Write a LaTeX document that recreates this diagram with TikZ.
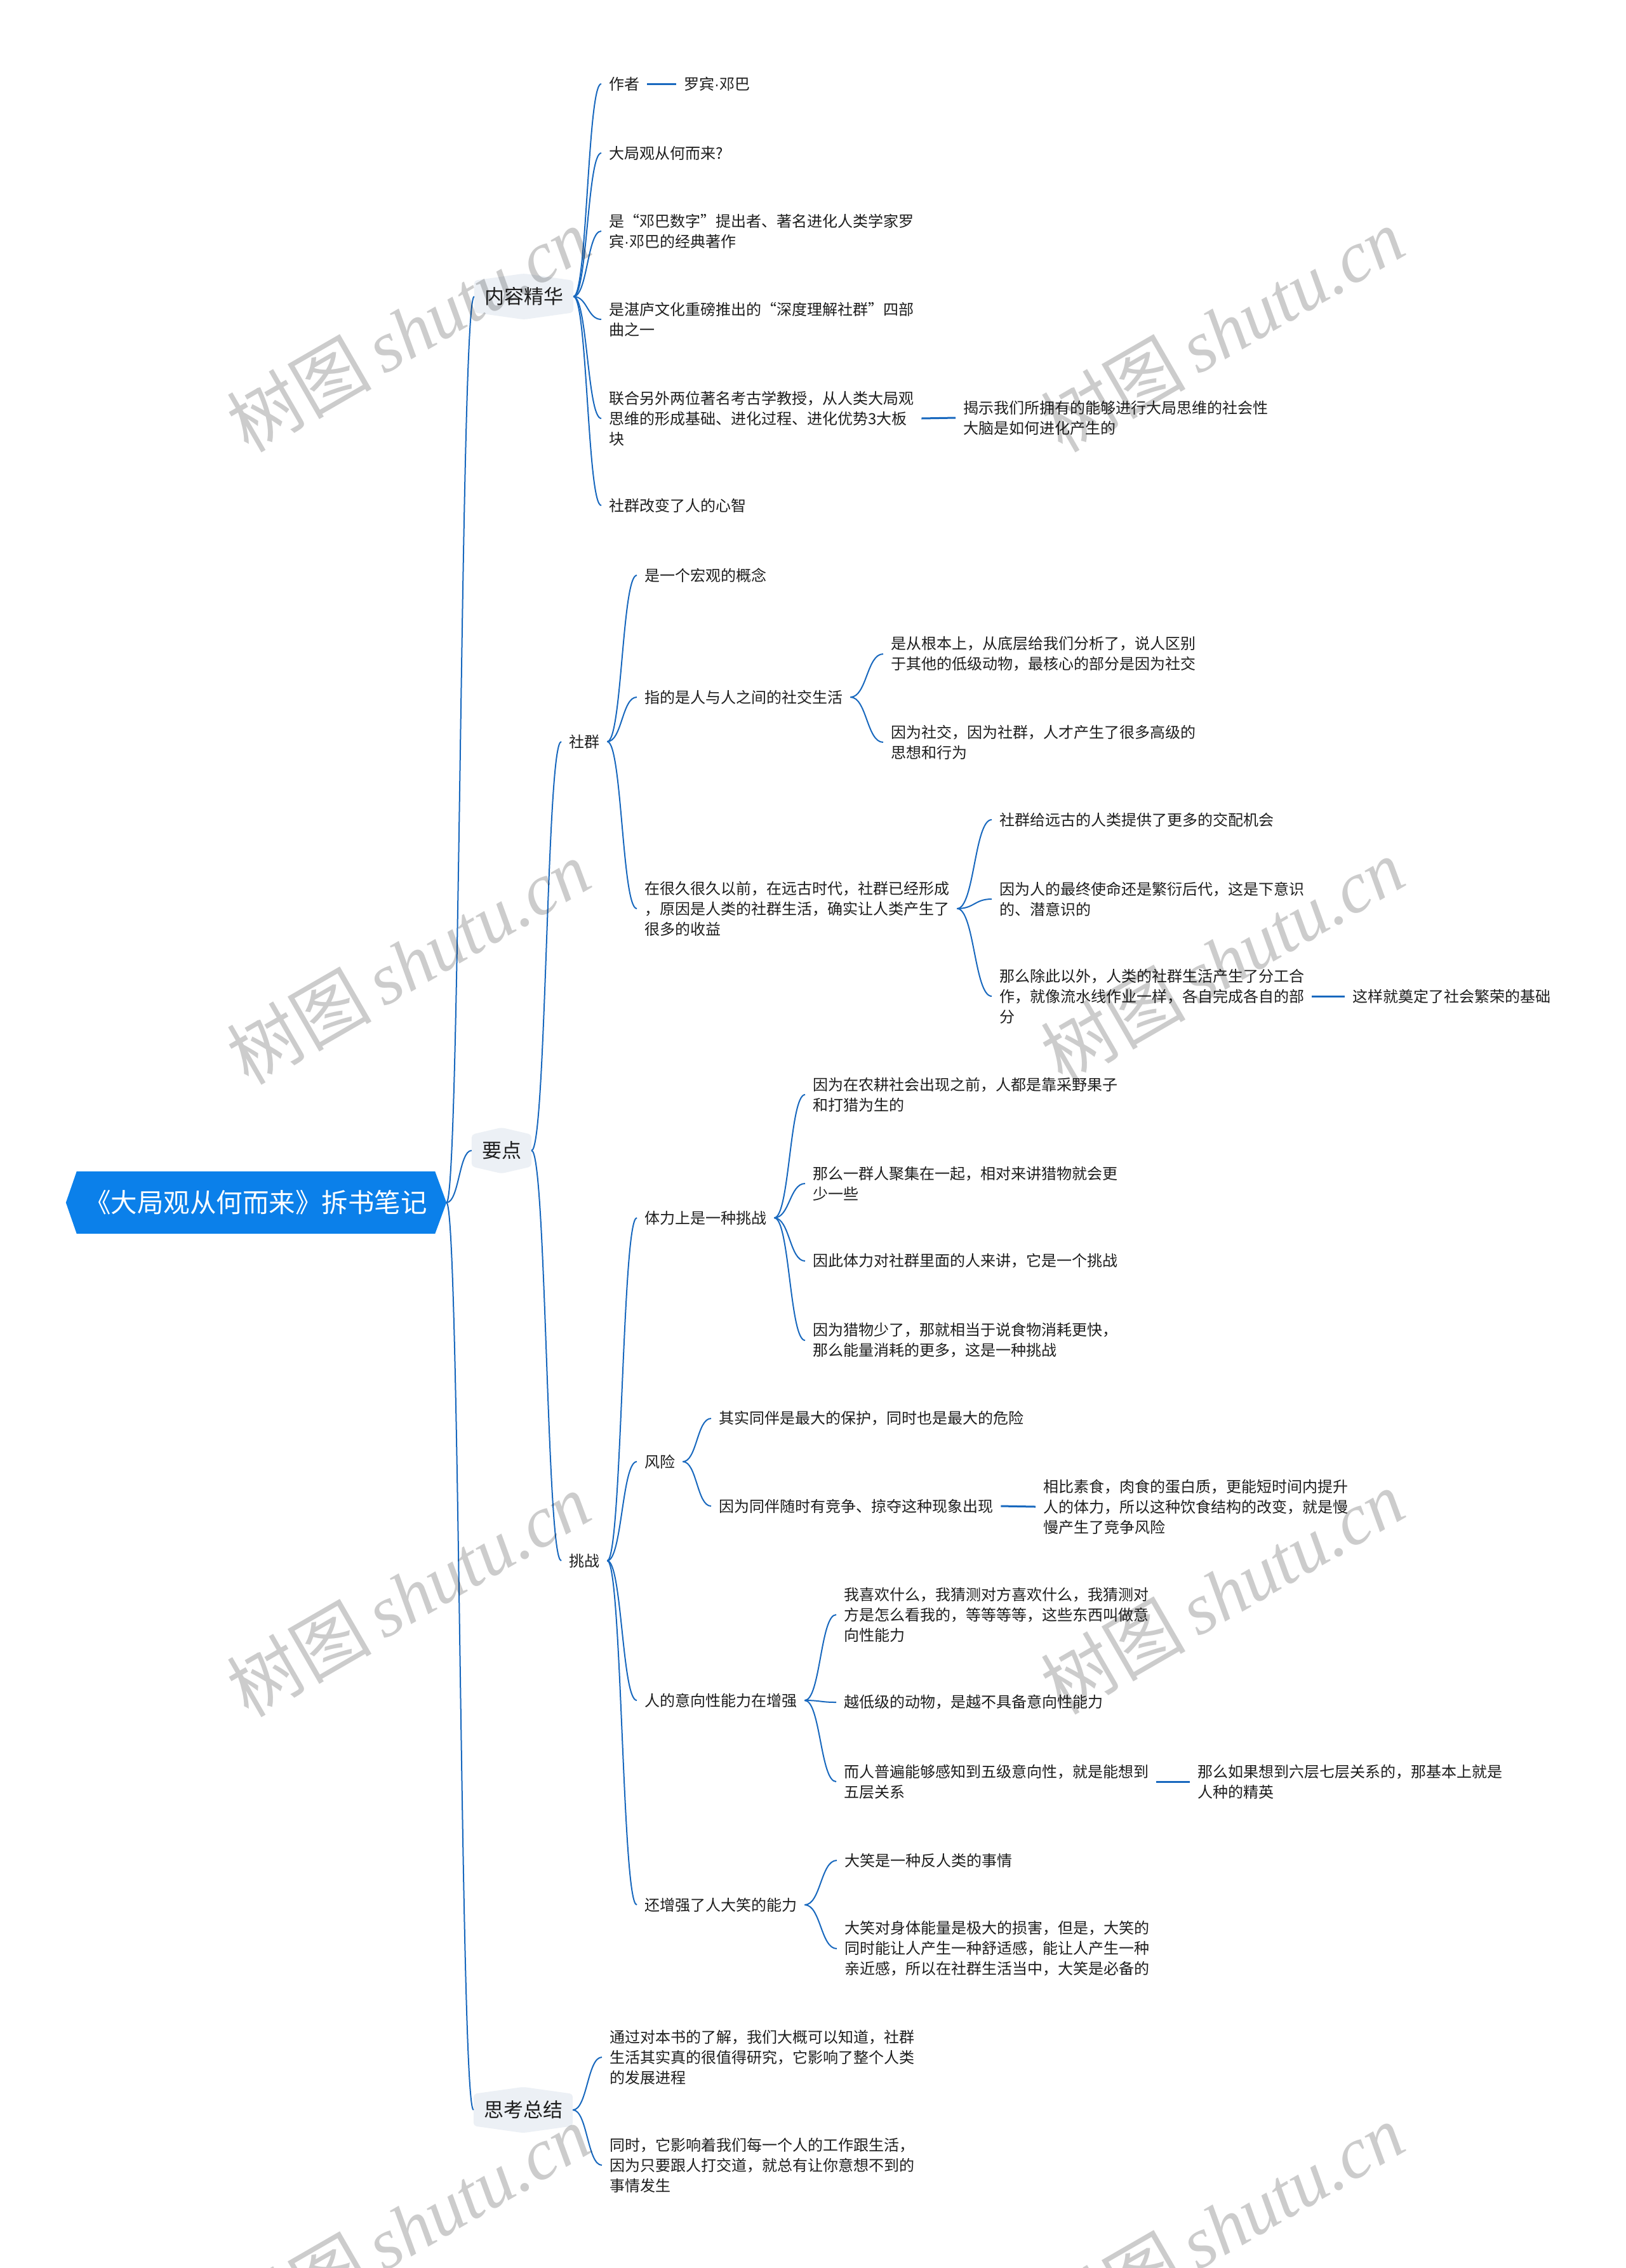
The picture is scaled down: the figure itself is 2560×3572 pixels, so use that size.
\documentclass[tikz,border=0pt]{standalone}
\usepackage{fontspec}
\setmainfont{Noto Sans CJK SC}
\newfontfamily\wmcjk{Noto Sans CJK SC}
\newfontfamily\wmlat{Liberation Serif}
\newfontfamily\latsans{Liberation Sans}
\usetikzlibrary{calc}
\pgfdeclarelayer{bg}
\pgfdeclarelayer{paper}
\pgfsetlayers{paper,bg,main}
\definecolor{rootblue}{RGB}{11,128,234}
\definecolor{linkblue}{RGB}{24,104,190}
\definecolor{topicfill}{RGB}{236,240,245}
\definecolor{txt}{RGB}{30,30,30}
\newcommand\lnk[2]{\path ($(#1)!0.5!(#2)$) coordinate (lkm);
  \draw[conn] (#1) .. controls (lkm |- #1) and (lkm |- #2) .. (#2);}
\newcommand\topicshape[1]{\fill[topicfill, rounded corners=5pt] (#1.north west) -- ($(#1.north)+(0,-11)$) -- (#1.north east) -- (#1.south east) -- ($(#1.south)+(0,11)$) -- (#1.south west) -- cycle;}
\newcommand\mdot{{\latsans ·}}
\tikzset{
  leaf/.style={anchor=west, inner xsep=12pt, inner ysep=2pt, align=left, text=txt,
    font=\fontsize{24}{32}\selectfont},
  topic/.style={inner xsep=16pt, inner ysep=0pt, minimum height=50pt, text=txt,
    font=\fontsize{31}{36}\selectfont},
  rootnode/.style={minimum width=564pt, minimum height=98pt, inner sep=0pt, text=white,
    font=\fontsize{41.5}{48}\selectfont},
  conn/.style={draw=linkblue, line width=2pt},
  bar/.style={draw=linkblue, line width=3pt},
  wm/.style={rotate=30, text=black, text opacity=0.2, font=\fontsize{114}{118}\selectfont}
}
\begin{document}
\begin{tikzpicture}[x=1pt,y=-1pt]
\begin{pgfonlayer}{paper}
\fill[white] (0,0) rectangle (2560,3572);
\end{pgfonlayer}
\useasboundingbox (0,0) rectangle (2560,3572);

% root
\node[rootnode] (root) at (403,1894) {《大局观从何而来》拆书笔记};
\coordinate (rootR) at ($(root.east)+(18,0)$);
\coordinate (rootL) at ($(root.west)+(-17,0)$);
\begin{pgfonlayer}{bg}
\fill[rootblue] (root.north west) -- (root.north east) -- (rootR) -- (root.south east) -- (root.south west) -- (rootL) -- cycle;
\end{pgfonlayer}

% main topics
\node[topic] (t1) at (825,467) {内容精华};
\node[topic] (t2) at (790,1812) {要点};
\node[topic] (t3) at (824,3323) {思考总结};
\begin{pgfonlayer}{bg}
\topicshape{t1}\topicshape{t2}\topicshape{t3}
\end{pgfonlayer}

% 内容精华
\node[leaf] (a1) at (947,132) {作者};
\node[leaf] (a1c) at (1065,132) {罗宾\mdot 邓巴};
\node[leaf] (a2) at (947,241) {大局观从何而来?};
\node[leaf] (a3) at (947,364) {是“邓巴数字”提出者、著名进化人类学家罗\\宾\mdot 邓巴的经典著作};
\node[leaf] (a4) at (947,503) {是湛庐文化重磅推出的“深度理解社群”四部\\曲之一};
\node[leaf] (a5) at (947,659) {联合另外两位著名考古学教授，从人类大局观\\思维的形成基础、进化过程、进化优势3大板\\块};
\node[leaf] (a5c) at (1505,658) {揭示我们所拥有的能够进行大局思维的社会性\\大脑是如何进化产生的};
\node[leaf] (a6) at (947,796) {社群改变了人的心智};

% 要点
\node[leaf] (b1) at (884,1168) {社群};
\node[leaf] (b2) at (884,2458) {挑战};

\node[leaf] (c1) at (1003,906) {是一个宏观的概念};
\node[leaf] (c2) at (1003,1098) {指的是人与人之间的社交生活};
\node[leaf] (c2a) at (1391,1030) {是从根本上，从底层给我们分析了，说人区别\\于其他的低级动物，最核心的部分是因为社交};
\node[leaf] (c2b) at (1391,1169) {因为社交，因为社群，人才产生了很多高级的\\思想和行为};
\node[leaf] (c3) at (1003,1431) {在很久很久以前，在远古时代，社群已经形成\\，原因是人类的社群生活，确实让人类产生了\\很多的收益};
\node[leaf] (c3a) at (1562,1291) {社群给远古的人类提供了更多的交配机会};
\node[leaf] (c3b) at (1562,1416) {因为人的最终使命还是繁衍后代，这是下意识\\的、潜意识的};
\node[leaf] (c3c) at (1562,1569) {那么除此以外，人类的社群生活产生了分工合\\作，就像流水线作业一样，各自完成各自的部\\分};
\node[leaf] (c3cc) at (2118,1569) {这样就奠定了社会繁荣的基础};

\node[leaf] (d1) at (1003,1918) {体力上是一种挑战};
\node[leaf] (d1a) at (1268,1724) {因为在农耕社会出现之前，人都是靠采野果子\\和打猎为生的};
\node[leaf] (d1b) at (1268,1864) {那么一群人聚集在一起，相对来讲猎物就会更\\少一些};
\node[leaf] (d1c) at (1268,1986) {因此体力对社群里面的人来讲，它是一个挑战};
\node[leaf] (d1d) at (1268,2111) {因为猎物少了，那就相当于说食物消耗更快，\\那么能量消耗的更多，这是一种挑战};
\node[leaf] (d2) at (1003,2302) {风险};
\node[leaf] (d2a) at (1120,2234) {其实同伴是最大的保护，同时也是最大的危险};
\node[leaf] (d2b) at (1120,2372) {因为同伴随时有竞争、掠夺这种现象出现};
\node[leaf] (d2bc) at (1631,2373) {相比素食，肉食的蛋白质，更能短时间内提升\\人的体力，所以这种饮食结构的改变，就是慢\\慢产生了竞争风险};
\node[leaf] (d3) at (1003,2678) {人的意向性能力在增强};
\node[leaf] (d3a) at (1317,2543) {我喜欢什么，我猜测对方喜欢什么，我猜测对\\方是怎么看我的，等等等等，这些东西叫做意\\向性能力};
\node[leaf] (d3b) at (1317,2681) {越低级的动物，是越不具备意向性能力};
\node[leaf] (d3c) at (1317,2806) {而人普遍能够感知到五级意向性，就是能想到\\五层关系};
\node[leaf] (d3cc) at (1874,2806) {那么如果想到六层七层关系的，那基本上就是\\人种的精英};
\node[leaf] (d4) at (1003,3000) {还增强了人大笑的能力};
\node[leaf] (d4a) at (1318,2930) {大笑是一种反人类的事情};
\node[leaf] (d4b) at (1318,3069) {大笑对身体能量是极大的损害，但是，大笑的\\同时能让人产生一种舒适感，能让人产生一种\\亲近感，所以在社群生活当中，大笑是必备的};

% 思考总结
\node[leaf] (e1) at (948,3240) {通过对本书的了解，我们大概可以知道，社群\\生活其实真的很值得研究，它影响了整个人类\\的发展进程};
\node[leaf] (e2) at (948,3410) {同时，它影响着我们每一个人的工作跟生活，\\因为只要跟人打交道，就总有让你意想不到的\\事情发生};

% connectors
\lnk{rootR}{t1.west}
\lnk{rootR}{t2.west}
\lnk{rootR}{t3.west}
\foreach \c in {a1,a2,a3,a4,a5,a6} {\lnk{t1.east}{\c.west}}
\draw[bar] (a1.east) -- (a1c.west);
\draw[bar] (a5.east) -- (a5c.west);
\lnk{t2.east}{b1.west}
\lnk{t2.east}{b2.west}
\foreach \c in {c1,c2,c3} {\lnk{b1.east}{\c.west}}
\foreach \c in {c2a,c2b} {\lnk{c2.east}{\c.west}}
\foreach \c in {c3a,c3b,c3c} {\lnk{c3.east}{\c.west}}
\draw[bar] (c3c.east) -- (c3cc.west);
\foreach \c in {d1,d2,d3,d4} {\lnk{b2.east}{\c.west}}
\foreach \c in {d1a,d1b,d1c,d1d} {\lnk{d1.east}{\c.west}}
\foreach \c in {d2a,d2b} {\lnk{d2.east}{\c.west}}
\draw[bar] (d2b.east) -- (d2bc.west);
\foreach \c in {d3a,d3b,d3c} {\lnk{d3.east}{\c.west}}
\draw[bar] (d3c.east) -- (d3cc.west);
\foreach \c in {d4a,d4b} {\lnk{d4.east}{\c.west}}
\foreach \c in {e1,e2} {\lnk{t3.east}{\c.west}}

% watermarks
\foreach \wx/\wy [count=\i] in {643/519,1925/519,643/1515,1925/1512,643/2511,1925/2507,643/3507,1925/3505} {
  \node[wm] (wm\i) at (\wx,\wy) {{\wmcjk 树图}\,{\wmlat\itshape shutu.cn}};
}
\end{tikzpicture}
\end{document}
